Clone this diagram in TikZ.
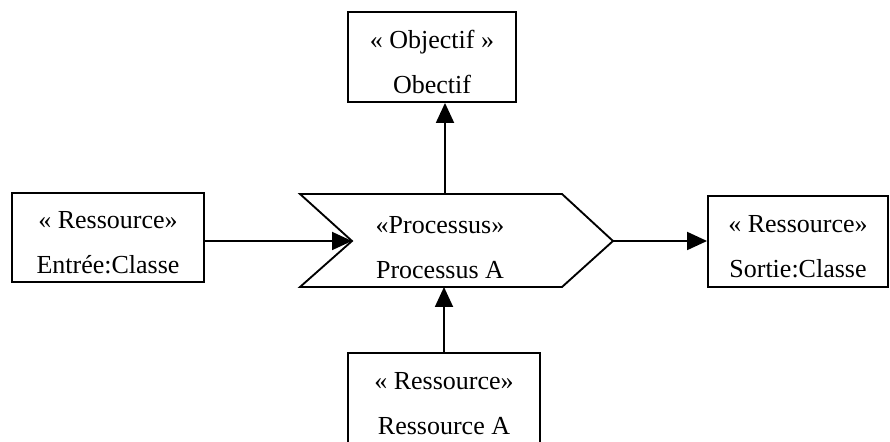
\documentclass[tikz,border=0pt]{standalone}
\usepackage{fontspec}
\setmainfont{Liberation Serif}
\usetikzlibrary{arrows.meta}
\newcommand{\hautligne}{\rule{0pt}{21pt}}
\begin{document}
\begin{tikzpicture}[x=0.75pt,y=-0.75pt,
  boite/.style={draw,line width=1.4pt,rectangle,align=center,inner sep=0pt,font=\fontsize{19.5}{34}\selectfont},
  fleche/.style={draw,line width=1.4pt,-{Triangle[length=15pt,width=13.5pt]}}]
\useasboundingbox (0,0) rectangle (890,442);
\node[boite,minimum width=126pt,minimum height=67.5pt] (objectif) at (432,57) {\hautligne« Objectif »\\Obectif};
\node[boite,minimum width=144pt,minimum height=66.75pt] (entree) at (108,237.5) {\hautligne« Ressource»\\Entrée:Classe};
\node[boite,minimum width=135pt,minimum height=68.25pt] (sortie) at (798,241.5) {\hautligne« Ressource»\\Sortie:Classe};
\node[boite,minimum width=144pt,minimum height=67.5pt] (ressA) at (444,398) {\hautligne« Ressource»\\Ressource A};

\coordinate (hg) at (300,194);
\coordinate (creux) at (352,241);
\coordinate (bg) at (300,287);
\coordinate (bd) at (562,287);
\coordinate (pointe) at (613,241);
\coordinate (hd) at (562,194);
\coordinate (haut) at (445,194);
\coordinate (bas) at (444,287);
\path[draw,line width=1.4pt,line join=miter] (hg) -- (creux) -- (bg) -- (bd) -- (pointe) -- (hd) -- cycle;
\node[boite,draw=none] (processus) at (440,242) {\hautligne«Processus»\\Processus A};

\path[fleche] (entree.east |- creux) -- (creux);
\path[fleche] (pointe) -- (sortie.west |- pointe);
\path[fleche] (haut) -- (objectif.south -| haut);
\path[fleche] (ressA.north) -- (bas);
\end{tikzpicture}
\end{document}
